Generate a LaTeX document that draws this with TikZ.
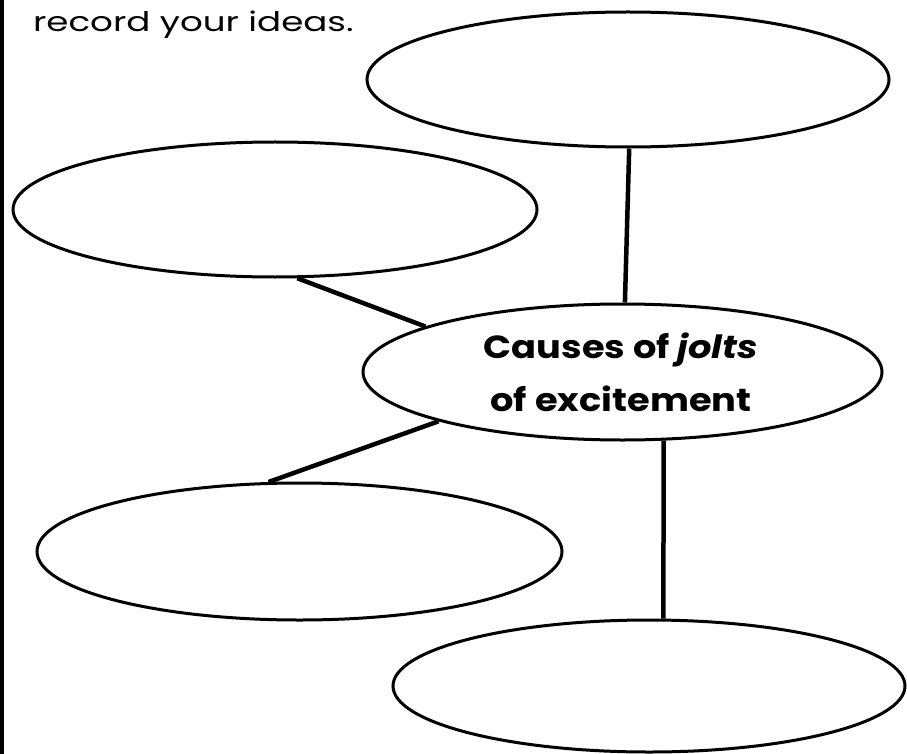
\documentclass[tikz,border=0pt]{standalone}
\usepackage{fontspec}
\setmainfont{Poppins}
\usetikzlibrary{shapes.geometric}
\tikzset{
  bubble/.style={ellipse, draw=black, line width=3pt, fill=white, inner sep=0pt},
  link/.style={line width=4.5pt, black},
}
\begin{document}
\begin{tikzpicture}[x=1pt,y=-1pt]
\useasboundingbox (0,0) rectangle (907,754);
\fill[white] (0,0) rectangle (907,754);
\fill[black] (0,0) rectangle (4,754);
\node[anchor=base west, inner sep=0pt, font=\fontsize{27}{30}\selectfont] (intro) at (33,32) {\scalebox{1.32}[1]{record your ideas.}};
\node[bubble, minimum width=522pt, minimum height=135pt] (top) at (628,79.5) {};
\node[bubble, minimum width=524pt, minimum height=135pt] (left) at (275,209.5) {};
\node[bubble, minimum width=519pt, minimum height=136pt] (center) at (622.5,372) {};
\node[inner sep=0pt, align=center, font=\bfseries\fontsize{32}{53}\selectfont] (title) at (621,372)
  {\scalebox{1.15}[1]{Causes of \textit{jolts}}\\\scalebox{1.15}[1]{of excitement}};
\node[bubble, minimum width=525pt, minimum height=137pt] (bleft) at (299.5,551.5) {};
\node[bubble, minimum width=512pt, minimum height=132pt] (bright) at (649,686) {};
\draw[link] (top.-89.2) -- (center.88.8);
\draw[link] (left.-72.2) -- (center.167.4);
\draw[link] (center.-165.1) -- (bleft.114.4);
\draw[link] (center.-59.6) -- (bright.78);
\end{tikzpicture}
\end{document}
